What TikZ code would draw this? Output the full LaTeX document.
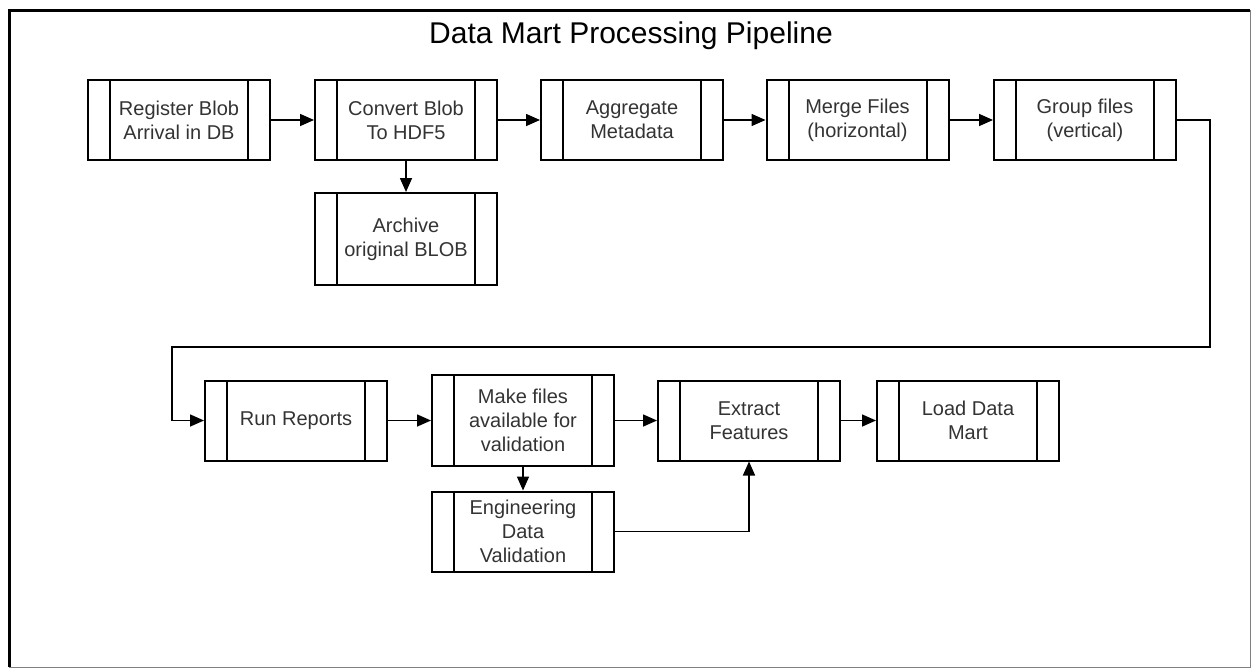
\documentclass[tikz,border=0pt]{standalone}
\usepackage{fontspec}
\setmainfont{Liberation Sans}
\usetikzlibrary{arrows.meta}

\tikzset{
  process/.style={draw, line width=1pt, minimum width=91pt, minimum height=40pt,
    inner sep=0pt, align=center, text=black!80,
    font=\fontsize{10}{12}\selectfont,
    path picture={
      \draw[line width=1pt] ([xshift=11pt]path picture bounding box.north west)
        -- ([xshift=11pt]path picture bounding box.south west);
      \draw[line width=1pt] ([xshift=-11pt]path picture bounding box.north east)
        -- ([xshift=-11pt]path picture bounding box.south east);
    }},
  flow/.style={line width=0.8pt, -{Triangle[length=7pt,width=6pt]}},
}

\begin{document}
\begin{tikzpicture}[x=0.5pt, y=-0.5pt]
    \useasboundingbox (0,0) rectangle (1253,669);
    % frame
    \draw[black!50, line width=0.5pt] (1250,10) -- (1250,667) -- (9,667);
    \draw[line width=1.5pt] (9,667) -- (9,10) -- (1250,10);
    \node[font=\fontsize{15}{18}\selectfont, anchor=base] (title) at (631,43)
        {Data Mart Processing Pipeline};
    % first row
    \node[process] (register) at (179,120) {Register Blob\\Arrival in DB};
    \node[process] (convert) at (406,120) {Convert Blob\\To HDF5};
    \node[process] (aggregate) at (632,120) {Aggregate\\Metadata};
    \node[process] (merge) at (857.5,120) {Merge Files\\(horizontal)};
    \node[process] (group) at (1085,120) {Group files\\(vertical)};
    \node[process, minimum height=46pt] (archive) at (406,239) {Archive\\original BLOB};
    % second row
    \node[process] (reports) at (296,420.5) {Run Reports};
    \node[process, minimum height=45.5pt] (makefiles) at (523,420.5)
        {Make files\\available for\\validation};
    \node[process] (engineering) at (523,531.5) {Engineering\\Data\\Validation};
    \node[process] (extract) at (749,420.5) {Extract\\Features};
    \node[process] (load) at (968,420.5) {Load Data\\Mart};
    \coordinate (turnA) at (1210,347);
    \coordinate (turnB) at (172,347);
    % connectors
    \draw[flow] (register) -- (convert);
    \draw[flow] (convert) -- (aggregate);
    \draw[flow] (aggregate) -- (merge);
    \draw[flow] (merge) -- (group);
    \draw[flow] (convert) -- (archive);
    \draw[flow] (group.east) -| (turnA) -- (turnB) |- (reports.west);
    \draw[flow] (reports) -- (makefiles);
    \draw[flow] (makefiles) -- (extract);
    \draw[flow] (extract) -- (load);
    \draw[flow] (makefiles) -- (engineering);
    \draw[flow] (engineering.east) -| (extract.south);
\end{tikzpicture}
\end{document}
